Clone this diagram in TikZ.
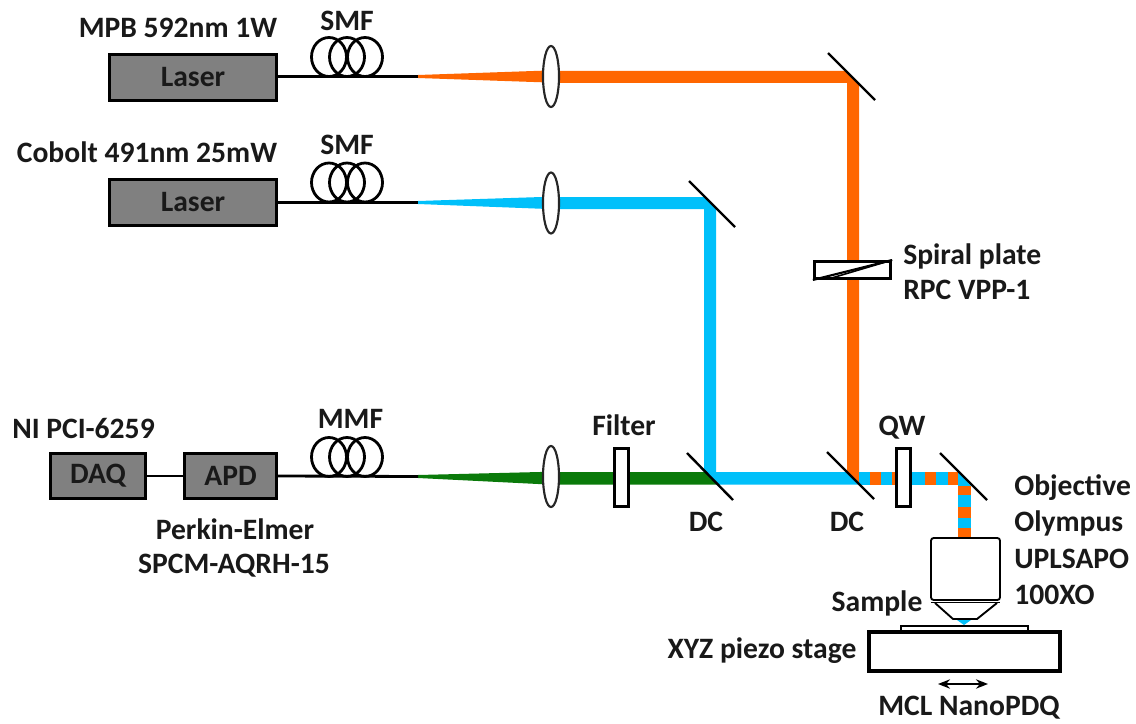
\documentclass[tikz,border=0pt]{standalone}
\usepackage{fontspec}
\setmainfont{Carlito}
\usetikzlibrary{arrows.meta,shapes.geometric}
\definecolor{org}{RGB}{255,102,0}
\definecolor{blu}{RGB}{0,192,250}
\definecolor{grn}{RGB}{10,122,10}
\definecolor{boxg}{RGB}{128,128,128}
\tikzset{
  x=0.75pt,y=-0.75pt,
  lab/.style={font=\fontsize{22.2}{24}\selectfont\bfseries,text=black!90,inner sep=0pt,anchor=center},
  lableft/.style={lab,anchor=west},
  devbox/.style={draw=black,line width=2.4pt,fill=boxg,inner sep=0pt,font=\fontsize{22.2}{24}\selectfont\bfseries,text=black!90,anchor=center},
  fiber/.style={draw=black,line width=2.1pt},
  lensn/.style={ellipse,draw=black!85,line width=1.6pt,fill=white,inner sep=0pt,minimum width=12pt,minimum height=45.75pt},
  mirror/.style={draw=black,line width=1.8pt},
  plate/.style={draw=black,line width=2.4pt,fill=white},
  objl/.style={draw=black,line width=1.4pt},
}
\newcommand{\coilat}[2]{%
  \draw[fiber] (#1-18,#2) ellipse [x radius=17.5,y radius=19.5];
  \draw[fiber] (#1,#2) ellipse [x radius=17.5,y radius=19.5];
  \draw[fiber] (#1+18,#2) ellipse [x radius=17.5,y radius=19.5];
}
\begin{document}
\begin{tikzpicture}
\useasboundingbox (0,0) rectangle (1136,724);
\fill[white] (0,0) rectangle (1136,724);

% coordinates
\coordinate (f1) at (418,76.5);
\coordinate (f2) at (418,202.5);
\coordinate (f3) at (418,476.5);

% beams
\fill[org] (418,75) -- (548,70.5) -- (548,82.5) -- (418,78) -- cycle;
\fill[blu] (418,201) -- (548,196.8) -- (548,209) -- (418,204) -- cycle;
\fill[grn] (418,475) -- (548,471.8) -- (548,484.5) -- (418,478) -- cycle;
\fill[org] (548,71) -- (846,71) -- (859,84) -- (859,484) -- (847,472) -- (847,83) -- (548,83) -- cycle;
\fill[blu] (548,197) -- (705,197) -- (716,208) -- (716,472) -- (847,472) -- (859.5,484.5) -- (718.5,484.5) -- (704,470) -- (704,209) -- (548,209) -- cycle;
\fill[grn] (548,472) -- (706,472) -- (718.5,484.5) -- (548,484.5) -- cycle;

% striped part
\fill[blu] (859,472) rectangle (870,484.5);
\fill[org] (870,472) rectangle (881,484.5);
\fill[blu] (881,472) rectangle (892,484.5);
\fill[org] (892,472) rectangle (903,484.5);
\fill[blu] (903,472) rectangle (925,484.5);
\fill[org] (925,472) rectangle (936,484.5);
\fill[blu] (936,472) rectangle (948,484.5);
\fill[org] (948,472) rectangle (958,484.5);
\fill[blu] (958,472) -- (971,486) -- (958,486) -- cycle;
\fill[org] (958,486) rectangle (971,495);
\fill[blu] (958,495) rectangle (971,507);
\fill[org] (958,507) rectangle (971,518);
\fill[blu] (958,518) rectangle (971,528);
\fill[org] (958,528) rectangle (971,538);

% devices
\node[devbox,minimum width=125pt,minimum height=34.5pt] (laser1) at (193,77.5) {\raisebox{-2.5pt}{Laser}};
\node[devbox,minimum width=125pt,minimum height=34.5pt] (laser2) at (193,202.5) {\raisebox{-2.5pt}{Laser}};
\node[devbox,minimum width=71pt,minimum height=34pt] (daq) at (98,476) {DAQ};
\node[devbox,minimum width=69pt,minimum height=34pt] (apd) at (230.5,476) {APD};

% fibres
\coilat{347}{57}
\coilat{347}{182.5}
\coilat{347}{457}
\draw[fiber] (laser1.east |- f1) -- (f1);
\draw[fiber] (laser2.east |- f2) -- (f2);
\draw[fiber] (apd.east) -- (f3);
\draw[fiber] (daq.east) -- (apd.west);

% lenses
\node[lensn] (lens1) at (551,76.5) {};
\node[lensn] (lens2) at (551,203) {};
\node[lensn] (lens3) at (551,476.5) {};

% mirrors
\draw[mirror] (828,53) -- (875,100);
\draw[mirror] (689,181) -- (735,227);
\draw[mirror] (687,453) -- (733,500);
\draw[mirror] (827,452) -- (874,499);
\draw[mirror] (940,453) -- (987,500);

% plates
\node[plate,minimum width=10pt,minimum height=43pt,inner sep=0pt] (filter) at (621.5,477.5) {};
\node[plate,minimum width=10pt,minimum height=43pt,inner sep=0pt] (qw) at (903.5,477.5) {};
\node[plate,minimum width=57pt,minimum height=12.5pt,inner sep=0pt] (spiral) at (852.5,270) {};
\draw[line width=1.6pt] (spiral.south west) -- (spiral.north east);
\draw[line width=1.2pt] (830,278.5) -- (spiral.north east);

% objective
\draw[objl,fill=white,rounded corners=2pt] (931,538) -- (1000,538) -- (1000,600) -- (931,600) -- cycle;
\draw[objl] (931,602.5) -- (1000,602.5);
\draw[objl,line join=round] (935,603) -- (953,619) -- (977,619) -- (997,603);
\fill[blu] (957,620) -- (971,620) -- (964,625) -- cycle;

% stage
\draw[line width=1.5pt,fill=white] (901,626) rectangle (1028,631);
\draw[line width=2.6pt,fill=white] (869,632) rectangle (1060,671);
\draw[{Stealth[length=9pt,width=7pt]}-{Stealth[length=9pt,width=7pt]},line width=1.4pt] (938,684) -- (988,684);

% labels
\node[lab] (t1) at (178,28) {MPB 592nm 1W};
\node[lab] (t2) at (147,152) {Cobolt 491nm 25mW};
\node[lab] (t3) at (347,21) {SMF};
\node[lab] (t4) at (347,145) {SMF};
\node[lab] (t5) at (350.5,419) {MMF};
\node[lab] (t6) at (83.5,429) {NI PCI-6259};
\node[lab] (t7) at (235,529) {Perkin-Elmer};
\node[lab] (t8) at (234,566) {SPCM-AQRH-15};
\node[lab] (t9) at (624,425) {Filter};
\node[lab] (t10) at (706,522) {DC};
\node[lab] (t11) at (847,522) {DC};
\node[lab] (t12) at (902,428) {QW};
\node[lableft] (t13) at (903,256) {Spiral plate};
\node[lableft] (t14) at (903,290) {RPC VPP-1};
\node[lableft] (t15) at (1014,488) {Objective};
\node[lableft] (t16) at (1014,523) {Olympus};
\node[lableft] (t17) at (1014,559) {UPLSAPO};
\node[lableft] (t18) at (1014,595) {100XO};
\node[lab] (t19) at (877,603) {Sample};
\node[lab] (t20) at (762,651) {XYZ piezo stage};
\node[lab] (t21) at (969,708) {MCL NanoPDQ};
\end{tikzpicture}
\end{document}
